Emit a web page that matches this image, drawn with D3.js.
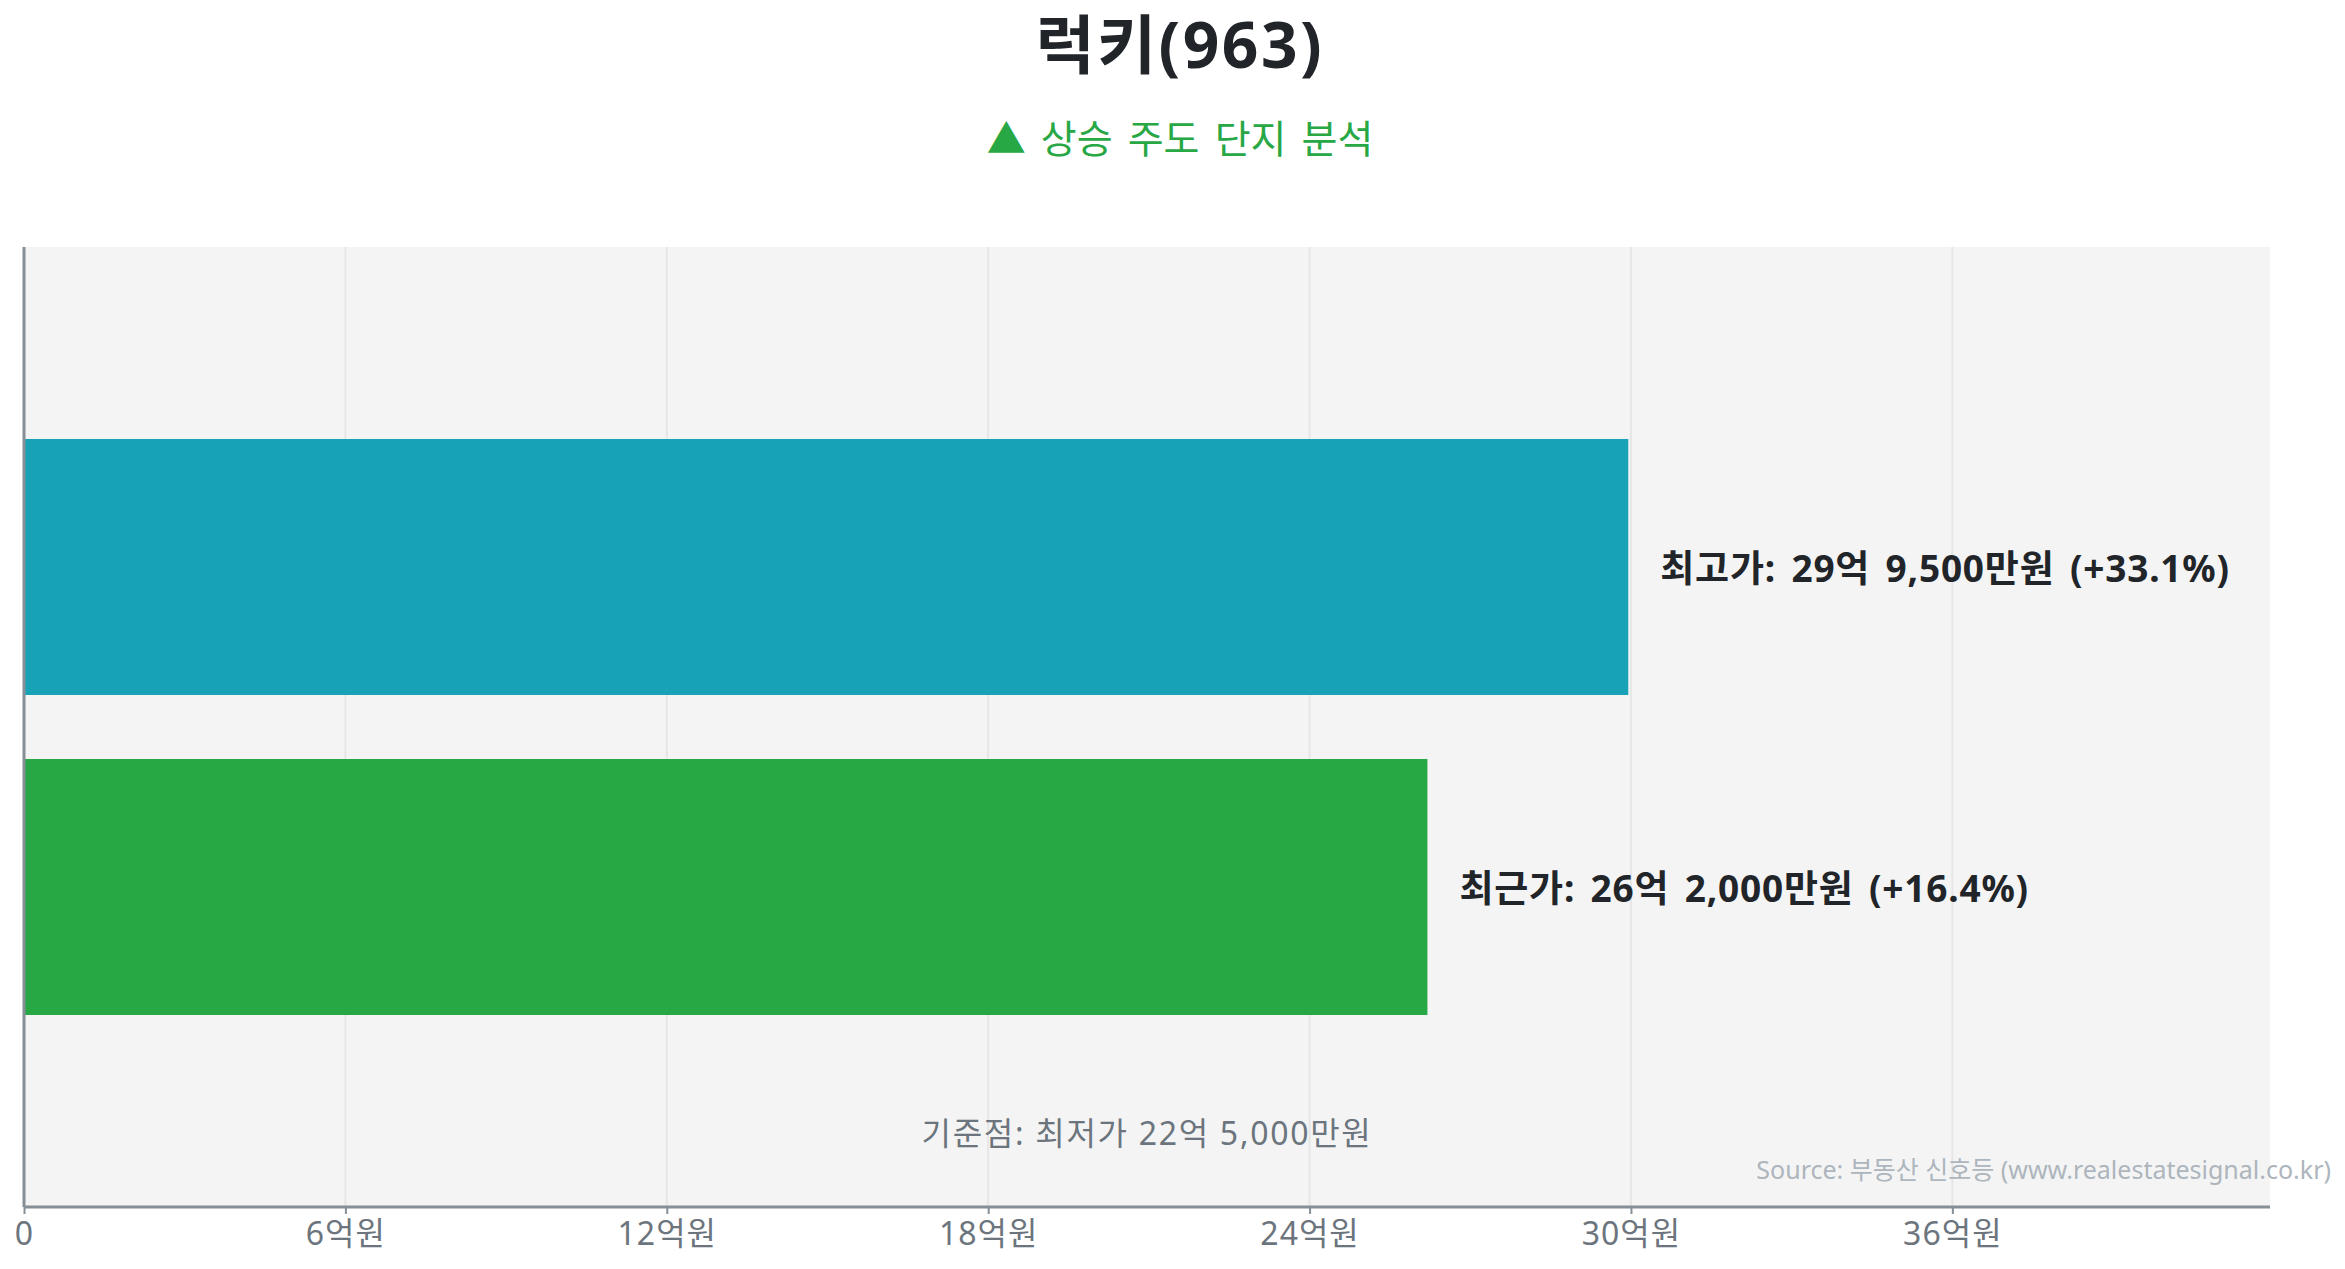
<!DOCTYPE html>
<html>
<head>
<meta charset="utf-8">
<script src="https://cdn.jsdelivr.net/npm/d3@7"></script>
<style>
  body { margin: 0; background: #fff; }
  svg { display: block; font-family: 'Noto Sans', 'Noto Sans CJK KR', sans-serif; }
</style>
</head>
<body>
<svg></svg>
<script>
// data
const categories = ['최고가', '최근가']
const values = [29.95, 26.2]            // 억원
const valueTexts = ['29억 9,500만원', '26억 2,000만원']
const basePrice = 22.5
const baseText = '22억 5,000만원'
const tickValues = [0, 6, 12, 18, 24, 30, 36]
const barColors = ['#17a2b8', '#28a745']

const width = 2345
const height = 1269
const margin = ({ top: 247, right: 75, bottom: 62, left: 24 })

const svg = d3.select('svg')
  .attr('width', width)
  .attr('height', height)

var x = d3.scaleLinear()
  .domain([0, d3.max(values) * 1.4])
  .range([margin.left, width - margin.right])

var y = d3.scaleBand()
  .domain(categories)
  .range([margin.top, height - margin.bottom])
  .paddingInner(0.2)
  .paddingOuter(0.6)

// plot background
svg.append('rect')
  .attr('x', margin.left)
  .attr('y', margin.top)
  .attr('width', width - margin.right - margin.left)
  .attr('height', height - margin.bottom - margin.top)
  .attr('fill', '#f4f4f4')

// vertical grid
svg.append('g')
  .selectAll('line')
  .data(tickValues.slice(1))
  .enter().append('line')
  .attr('x1', d => x(d))
  .attr('x2', d => x(d))
  .attr('y1', margin.top)
  .attr('y2', height - margin.bottom)
  .attr('stroke', '#e6e6e6')
  .attr('stroke-width', 2)

// bars
svg.append('g')
  .selectAll('rect')
  .data(values)
  .enter().append('rect')
  .attr('x', x(0))
  .attr('y', (d, i) => y(categories[i]))
  .attr('width', d => x(d) - x(0))
  .attr('height', y.bandwidth())
  .attr('fill', (d, i) => barColors[i])

// bar labels
svg.append('g')
  .attr('font-size', '37px')
  .attr('font-weight', 'bold')
  .attr('fill', '#212529')
  .attr('word-spacing', '5px')
  .attr('letter-spacing', '0.8px')
  .selectAll('text')
  .data(values)
  .enter().append('text')
  .attr('x', d => x(d) + 32)
  .attr('y', (d, i) => y(categories[i]) + y.bandwidth() / 2)
  .attr('dominant-baseline', 'central')
  .text((d, i) => {
    const pct = ((d / basePrice - 1) * 100).toFixed(1)
    return `${categories[i]}: ${valueTexts[i]} (+${pct}%)`
  })

// x axis
svg.append('g')
  .attr('transform', `translate(0,${height - margin.bottom})`)
  .call(d3.axisBottom(x)
    .tickValues(tickValues)
    .tickSize(7)
    .tickPadding(8)
    .tickFormat(d => d === 0 ? '0' : `${d}억원`))
  .call(g => g.select('.domain')
    .attr('stroke', '#868e96')
    .attr('stroke-width', 3)
    .attr('d', `M${margin.left},0H${width - margin.right}`))
  .call(g => g.selectAll('.tick line').attr('stroke', '#868e96').attr('stroke-width', 2))
  .call(g => g.selectAll('.tick text')
    .attr('font-size', '32px')
    .attr('letter-spacing', '1px')
    .attr('font-family', "'Noto Sans', 'Noto Sans CJK KR', sans-serif")
    .attr('fill', '#6c757d'))

// y axis line
svg.append('line')
  .attr('x1', margin.left)
  .attr('x2', margin.left)
  .attr('y1', margin.top)
  .attr('y2', height - margin.bottom)
  .attr('stroke', '#868e96')
  .attr('stroke-width', 3)

// title
svg.append('text')
  .attr('x', 1180)
  .attr('y', 68)
  .attr('text-anchor', 'middle')
  .attr('font-size', '64px')
  .attr('font-weight', 'bold')
  .attr('letter-spacing', '2.5px')
  .attr('fill', '#212529')
  .text('럭키(963)')

svg.append('text')
  .attr('x', 1180)
  .attr('y', 153)
  .attr('text-anchor', 'middle')
  .attr('font-size', '39px')
  .attr('word-spacing', '5px')
  .attr('fill', '#28a745')
  .text('▲ 상승 주도 단지 분석')

// base price note
svg.append('text')
  .attr('x', (margin.left + width - margin.right) / 2)
  .attr('y', 1132)
  .attr('text-anchor', 'middle')
  .attr('dominant-baseline', 'central')
  .attr('font-size', '32px')
  .attr('letter-spacing', '1.7px')
  .attr('fill', '#6c757d')
  .text(`기준점: 최저가 ${baseText}`)

// source
svg.append('text')
  .attr('x', 2331)
  .attr('y', 1169)
  .attr('text-anchor', 'end')
  .attr('dominant-baseline', 'central')
  .attr('font-size', '25px')
  .attr('fill', '#adb5bd')
  .text('Source: 부동산 신호등 (www.realestatesignal.co.kr)')
</script>
</body>
</html>
